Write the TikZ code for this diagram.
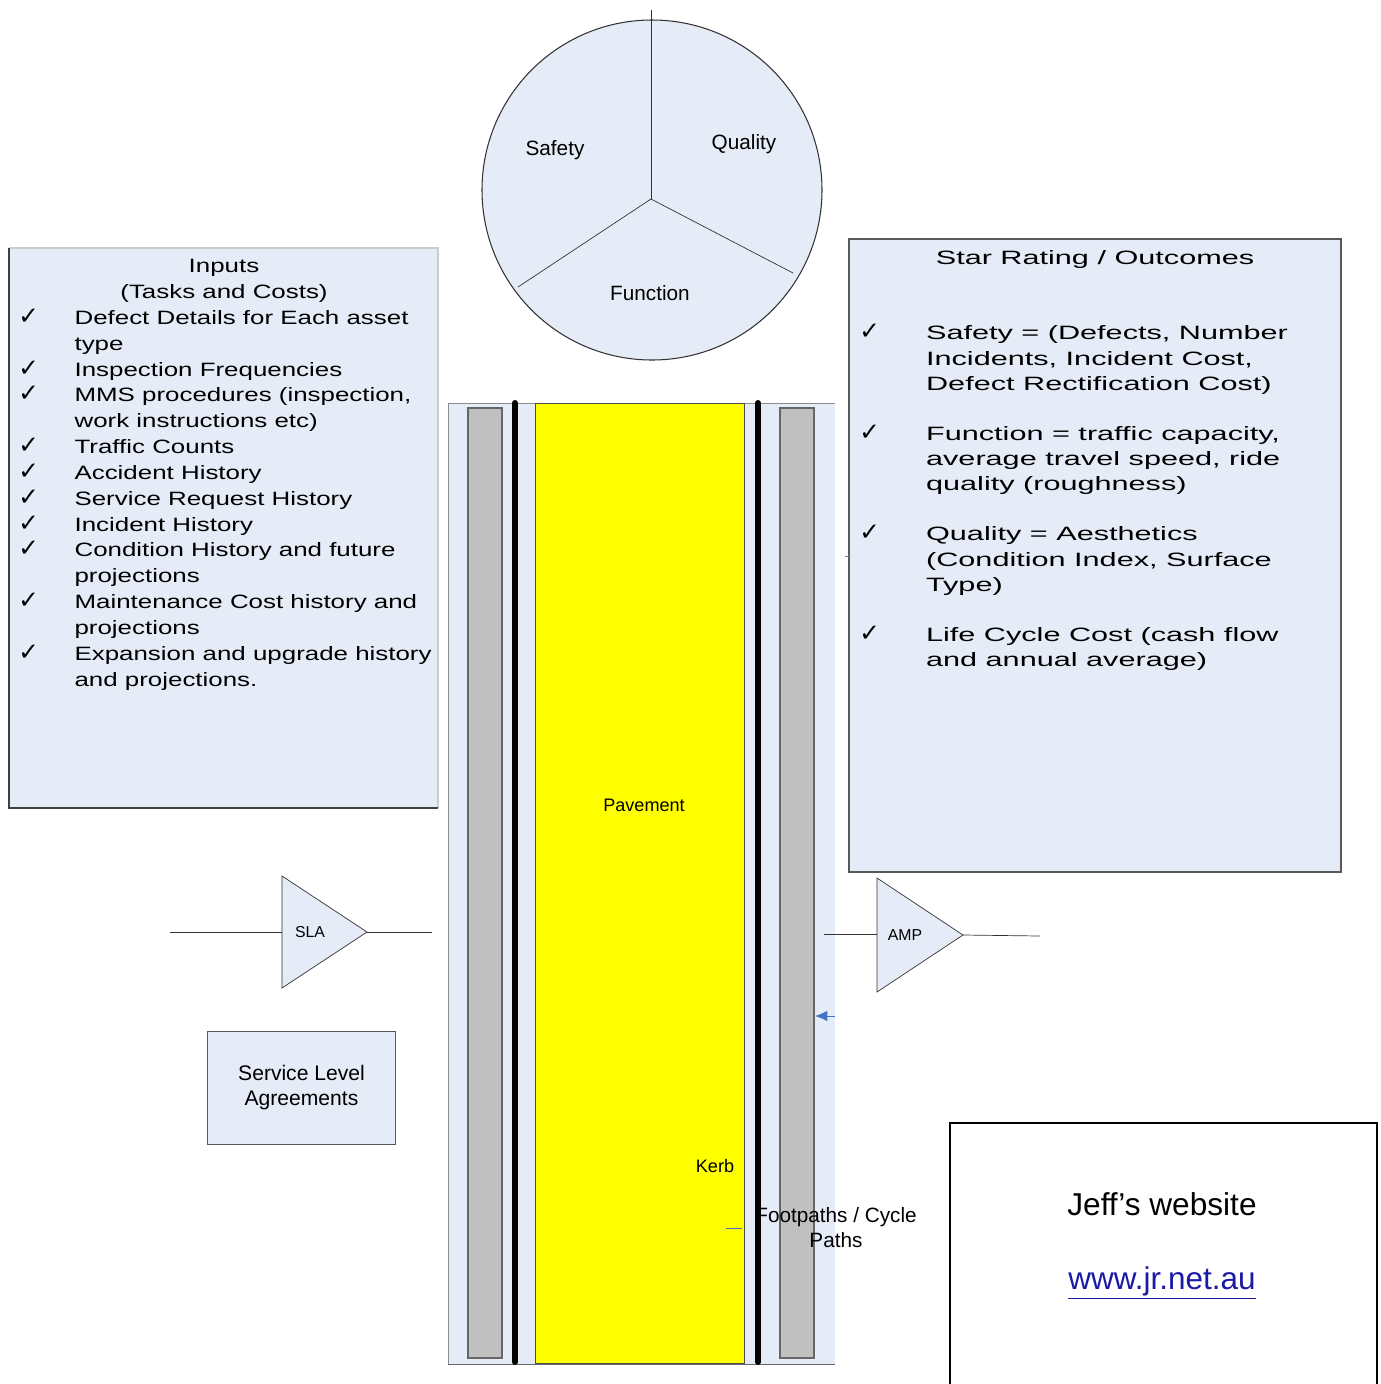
\documentclass[tikz,border=0pt]{standalone}
\usepackage{fontspec}
\setmainfont{Liberation Sans}
\newfontfamily\leftfont[FakeStretch=1.34]{Liberation Sans}
\newfontfamily\rightfont[FakeStretch=1.585]{Liberation Sans}
\newfontfamily\tickfont{DejaVu Sans}
\usetikzlibrary{arrows,arrows.meta,positioning}
\tikzset{>=latex}
\definecolor{paleblue}{RGB}{230,236,247}
\definecolor{stripgrey}{RGB}{192,192,192}
\definecolor{roadyellow}{RGB}{255,255,0}
\definecolor{arrowblue}{RGB}{68,114,196}
\definecolor{linkblue}{RGB}{26,26,166}
\newcommand{\checkit}{{\tickfont\fontsize{14}{11}\selectfont ✓}}

\begin{document}
\begin{tikzpicture}[x=0.02cm, y=-0.02cm,
  panel/.style={fill=paleblue, draw=black!65, line width=0.6pt},
  strip/.style={fill=stripgrey, draw=black!60, line width=0.6pt},
  kerbline/.style={line width=3.4pt, line cap=round},
  lbl/.style={inner sep=0pt, font=\fontsize{11.8}{14.2}\selectfont},
  smalllbl/.style={inner sep=0pt, font=\fontsize{10.3}{12}\selectfont},
  tinylbl/.style={inner sep=0pt, font=\fontsize{9}{10}\selectfont},
  inbase/.style={inner sep=0pt, anchor=base, font=\leftfont\fontsize{11}{14.7}\selectfont},
  outbase/.style={inner sep=0pt, anchor=base, font=\rightfont\fontsize{11}{14.3}\selectfont}]
  \useasboundingbox (0,0) rectangle (1381,1384);
  \fill[white] (0,0) rectangle (1381,1384);

  % pie of outcomes
  \draw[panel, draw=black!80] (652,190) circle (170);
  \coordinate (hub) at (651,199);
  \coordinate (pietop) at (651,10);
  \coordinate (piesw) at (518,287);
  \coordinate (piese) at (793,273);
  \draw[black!80] (hub) -- (pietop);
  \draw[black!80] (hub) -- (piesw);
  \draw[black!80] (hub) -- (piese);
  \node[lbl, anchor=base] (safety) at (555,155) {Safety};
  \node[lbl, anchor=base] (quality) at (744,149) {Quality};
  \node[lbl, anchor=base] (function) at (650,300) {Function};

  % inputs box
  \fill[paleblue] (9,248) rectangle (438,808);
  \draw[black!20, line width=0.6pt] (9,248) -- (438,248) -- (438,808);
  \draw[black!75, line width=0.6pt] (9,248) -- (9,808) -- (438,808);
  \node[inbase] (inhead) at (224,272) {Inputs};
  \node[inbase] (insub) at (224,298) {(Tasks and Costs)};
  \node[anchor=north west, inner sep=0pt] (inlist) at (18,306)
    {\leftfont\fontsize{11}{14.7}\selectfont
    \begin{tabular}{@{}p{32pt}@{}l@{}}
    \checkit & Defect Details for Each asset\\
             & type\\
    \checkit & Inspection Frequencies\\
    \checkit & MMS procedures (inspection,\\
             & work instructions etc)\\
    \checkit & Traffic Counts\\
    \checkit & Accident History\\
    \checkit & Service Request History\\
    \checkit & Incident History\\
    \checkit & Condition History and future\\
             & projections\\
    \checkit & Maintenance Cost history and\\
             & projections\\
    \checkit & Expansion and upgrade history\\
             & and projections.
    \end{tabular}};

  % outcomes box
  \draw[panel] (849,239) rectangle (1341,872);
  \draw[black!50] (845,556) -- (849,556);
  \node[outbase] (outhead) at (1095,264) {Star Rating / Outcomes};
  \node[anchor=north west, inner sep=0pt] (outlist) at (859,322)
    {\rightfont\fontsize{11}{14.3}\selectfont
    \begin{tabular}{@{}p{38pt}@{}l@{}}
    \checkit & Safety = (Defects, Number\\
             & Incidents, Incident Cost,\\
             & Defect Rectification Cost)\\
             & \\
    \checkit & Function = traffic capacity,\\
             & average travel speed, ride\\
             & quality (roughness)\\
             & \\
    \checkit & Quality = Aesthetics\\
             & (Condition Index, Surface\\
             & Type)\\
             & \\
    \checkit & Life Cycle Cost (cash flow\\
             & and annual average)
    \end{tabular}};

  % road cross section
  \fill[paleblue] (448,403) rectangle (835,1364);
  \draw[black!45] (448,1364) -- (448,403) -- (835,403);
  \draw[black!60] (448,1364) -- (835,1364);
  \draw[strip] (468,408) rectangle (502,1358);
  \draw[strip] (780,408) rectangle (814,1358);
  \draw[fill=roadyellow, draw=black!70, line width=0.5pt] (535,403) rectangle (744,1363);
  \draw[kerbline] (515,403) -- (515,1362);
  \draw[kerbline] (758,403) -- (758,1362);
  \node[smalllbl, anchor=base] (pavement) at (644,811) {Pavement};
  \node[smalllbl, anchor=base] (kerb) at (715,1172) {Kerb};
  \node[lbl, align=center] (footpath) at (836,1228) {Footpaths / Cycle\\Paths};
  \coordinate (kerbmark-a) at (726,1228);
  \coordinate (kerbmark-b) at (742,1228);
  \draw[arrowblue, line width=0.5pt] (kerbmark-a) -- (kerbmark-b);
  \coordinate (pathmark) at (835,1016);
  \coordinate (pathtip) at (815,1016);
  \draw[-{Latex[length=7pt,width=6pt]}, arrowblue, line width=0.5pt] (pathmark) -- (pathtip);

  % SLA amplifier
  \coordinate (slatop) at (282,876);
  \coordinate (slabot) at (282,988);
  \coordinate (slatip) at (367,932);
  \coordinate (slain) at (170,932);
  \coordinate (slaout) at (432,932);
  \draw[fill=paleblue, draw=black!80] (slatop) -- (slabot) -- (slatip) -- cycle;
  \draw[black!80] (slain) -- (slatop |- slatip);
  \draw[black!80] (slatip) -- (slaout);
  \node[tinylbl, anchor=base] (sla) at (310,937) {SLA};

  % AMP amplifier
  \coordinate (amptop) at (877,878);
  \coordinate (ampbot) at (877,992);
  \coordinate (amptip) at (963,935);
  \coordinate (ampin) at (824,934);
  \coordinate (ampout) at (1040,936);
  \draw[fill=paleblue, draw=black!80] (amptop) -- (ampbot) -- (amptip) -- cycle;
  \draw[black!80] (ampin) -- (amptop |- ampin);
  \draw[black!80] (amptip) -- (ampout);
  \node[tinylbl, anchor=base] (amp) at (905,940) {AMP};

  % service level agreements
  \node[panel, lbl, align=center, minimum width=107.2pt, minimum height=64.6pt,
    font=\fontsize{12}{14.2}\selectfont] (slabox) at (301.5,1088)
    {Service Level\\Agreements};

  % website box
  \draw[line width=1.4pt] (950,1123) rectangle (1377,1400);
  \node[inner sep=0pt, anchor=base, font=\fontsize{18}{20}\selectfont] (jeff) at (1162,1215)
    {Jeff’s website};
  \node[inner sep=0pt, anchor=base, text=linkblue, font=\fontsize{17.9}{20}\selectfont] (jeffurl)
    at (1162,1289) {\underline{www.jr.net.au}};
\end{tikzpicture}
\end{document}
